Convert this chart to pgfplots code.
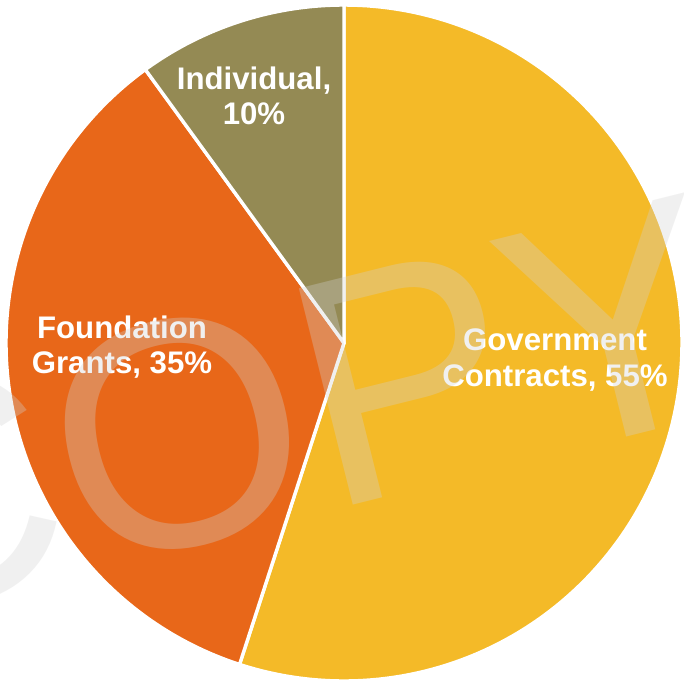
\documentclass[border=0pt]{standalone}
\usepackage{fontspec}
\setmainfont{Liberation Sans}
\usepackage{pgfplots}
\usepackage{pgfplotstable}
\pgfplotsset{compat=1.18}
\definecolor{govcol}{HTML}{F4BA28}
\definecolor{foucol}{HTML}{E86719}
\definecolor{indcol}{HTML}{948A54}
\definecolor{wmgray}{RGB}{210,210,210}

\pgfplotstableread{
label value
Government 55
Foundation 35
Individual 10
}\piedata

\begin{document}
\begin{tikzpicture}
\pgfplotstablegetelem{0}{value}\of\piedata \let\vA\pgfplotsretval
\pgfplotstablegetelem{1}{value}\of\piedata \let\vB\pgfplotsretval
\pgfplotstablegetelem{2}{value}\of\piedata \let\vC\pgfplotsretval
\pgfmathsetmacro{\aS}{90}
\pgfmathsetmacro{\aA}{90-3.6*\vA}
\pgfmathsetmacro{\aB}{\aA-3.6*\vB}
\pgfmathsetmacro{\aC}{\aB-3.6*\vC}
\begin{axis}[
  at={(0,0)}, anchor=south west,
  scale only axis, width=342pt, height=341pt,
  xmin=0, xmax=684, ymin=0, ymax=682,
  hide axis, clip=false,
]
\addplot[fill=govcol, draw=white, line width=1.7pt, line join=round, domain=\aA:\aS, samples=150, variable=\t]
  ({344+338*cos(\t)}, {339+338*sin(\t)}) -- (axis cs:344,339) -- cycle;
\addplot[fill=foucol, draw=white, line width=1.7pt, line join=round, domain=\aB:\aA, samples=120, variable=\t]
  ({344+338*cos(\t)}, {339+338*sin(\t)}) -- (axis cs:344,339) -- cycle;
\addplot[fill=indcol, draw=white, line width=1.7pt, line join=round, domain=\aC:\aB, samples=60, variable=\t]
  ({344+338*cos(\t)}, {339+338*sin(\t)}) -- (axis cs:344,339) -- cycle;
% labels
\node[text=white, font=\bfseries\fontsize{15.6}{17.8}\selectfont, align=center, inner sep=0]
  at (axis cs:555,322) {Government\\Contracts, 55\%};
\node[text=white, font=\bfseries\fontsize{15.6}{17.8}\selectfont, align=center, inner sep=0]
  at (axis cs:122,335) {Foundation\\Grants, 35\%};
\node[text=white, font=\bfseries\fontsize{15.6}{17.8}\selectfont, align=center, inner sep=0]
  at (axis cs:254,586) {Individual,\\10\%};
% watermark
\node[rotate=14, text=wmgray, text opacity=0.33, inner sep=0,
  font=\fontsize{162}{162}\selectfont]
  at (axis cs:274,272) {COPY};
\end{axis}
\pgfresetboundingbox
\useasboundingbox (0,0) rectangle (342pt,341pt);
\end{tikzpicture}
\end{document}
